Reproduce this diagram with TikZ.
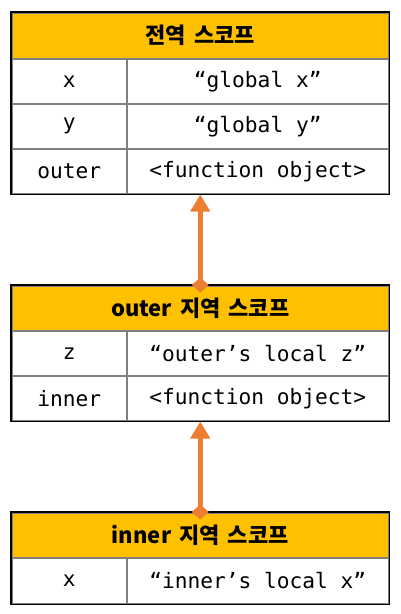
\documentclass[tikz,border=0pt]{standalone}
\usepackage{fontspec}
\setmonofont{DejaVu Sans Mono}
\newfontfamily\krfont{Noto Sans CJK KR}[WordSpace=1.6]
\usetikzlibrary{arrows.meta}
\definecolor{hdr}{HTML}{FFC000}
\definecolor{arr}{HTML}{ED7D31}
\definecolor{gridc}{HTML}{7F7F7F}
\begin{document}
\begin{tikzpicture}[x=1pt,y=-1pt,
  cell/.style={draw=gridc, line width=1.5pt, minimum height=45pt, inner sep=0pt,
    anchor=north west, font=\fontsize{21.2}{25}\selectfont\ttfamily},
  keycell/.style={cell, minimum width=115pt},
  valcell/.style={cell, minimum width=262pt},
  hdrcell/.style={draw=gridc, line width=1.5pt, fill=hdr, minimum width=377pt,
    minimum height=45pt, inner sep=0pt, anchor=north west,
    font=\krfont\bfseries\fontsize{22}{26}\selectfont},
  outline/.style={draw=black, line width=1.5pt},
  link/.style={draw=arr, line width=5pt, -{Triangle[width=19pt,length=17pt]}},
  knob/.style={fill=arr}
]
\useasboundingbox (0,0) rectangle (401,614);

% table 1
\node[hdrcell, minimum height=46pt] (h1) at (11,12) {전역 스코프};
\node[keycell] (k11) at (11,58) {x};
\node[valcell] (v11) at (126,58) {“global x”};
\node[keycell] (k12) at (11,103) {y};
\node[valcell] (v12) at (126,103) {“global y”};
\node[keycell] (k13) at (11,148) {outer};
\node[valcell] (v13) at (126,148) {<function object>};
\draw[outline] (h1.north west) rectangle (v13.south east);

% table 2
\node[hdrcell] (h2) at (11,285) {outer 지역 스코프};
\node[keycell] (k21) at (11,330) {z};
\node[valcell] (v21) at (126,330) {“outer’s local z”};
\node[keycell] (k22) at (11,375) {inner};
\node[valcell] (v22) at (126,375) {<function object>};
\draw[outline] (h2.north west) rectangle (v22.south east);

% table 3
\node[hdrcell] (h3) at (11,512) {inner 지역 스코프};
\node[keycell, minimum height=46pt] (k31) at (11,557) {x};
\node[valcell, minimum height=46pt] (v31) at (126,557) {“inner’s local x”};
\draw[outline] (h3.north west) rectangle (v31.south east);

% arrows
\draw[link] (h2.north) -- (h2.north |- v13.south);
\fill[knob] ([yshift=7.5pt]h2.north) -- ([xshift=8.5pt]h2.north) -- ([yshift=-7.5pt]h2.north) -- ([xshift=-8.5pt]h2.north) -- cycle;
\draw[link] (h3.north) -- (h3.north |- v22.south);
\fill[knob] ([yshift=7.5pt]h3.north) -- ([xshift=8.5pt]h3.north) -- ([yshift=-7.5pt]h3.north) -- ([xshift=-8.5pt]h3.north) -- cycle;
\end{tikzpicture}
\end{document}
